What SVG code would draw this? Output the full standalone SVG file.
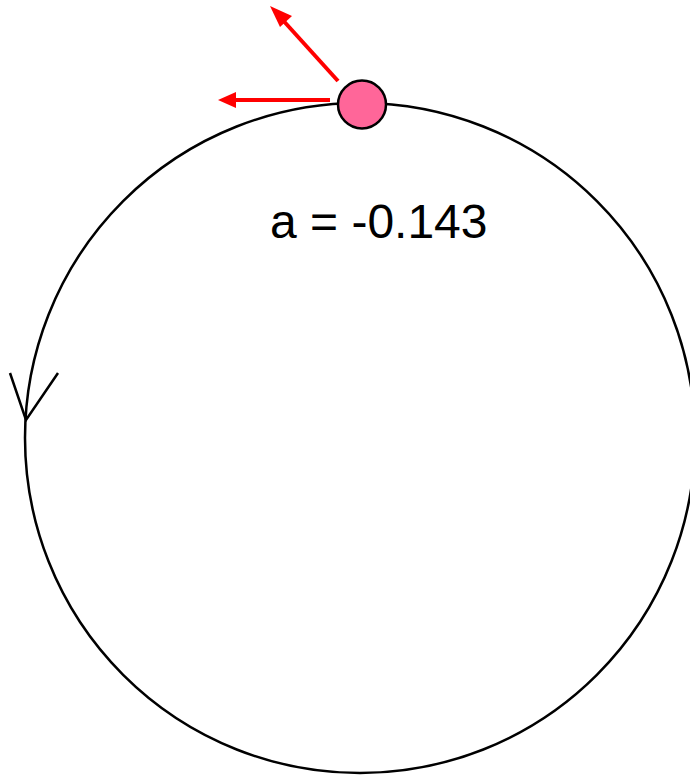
<svg xmlns="http://www.w3.org/2000/svg" width="690" height="776" viewBox="0 0 690 776">
<defs>
<style>
.orbit{fill:none;stroke:#000;stroke-width:2.5}
.vec{stroke:#f00;stroke-width:4;fill:none}
.head{fill:#f00;stroke:none}
.lbl{font-family:"Liberation Sans",Arial,sans-serif;font-size:48px;fill:#000}
</style>
</defs>
<rect width="690" height="776" fill="#fff"/>
<g id="connectors">
<circle class="orbit" cx="360" cy="438" r="335"/>
<polyline class="orbit" points="10,373 26,420 58,373"/>
<line class="vec" x1="330" y1="100" x2="232" y2="100"/>
<polygon class="head" points="218,100 236,92 236,108"/>
<line class="vec" x1="338" y1="81" x2="280" y2="17"/>
<polygon class="head" points="270,6 292,16 280,27"/>
</g>
<g id="ball">
<circle cx="362" cy="104.5" r="24" fill="#ff6699" stroke="#000" stroke-width="2.5"/>
</g>
<g id="label">
<text class="lbl" x="270" y="238">a = -0.143</text>
</g>
</svg>
